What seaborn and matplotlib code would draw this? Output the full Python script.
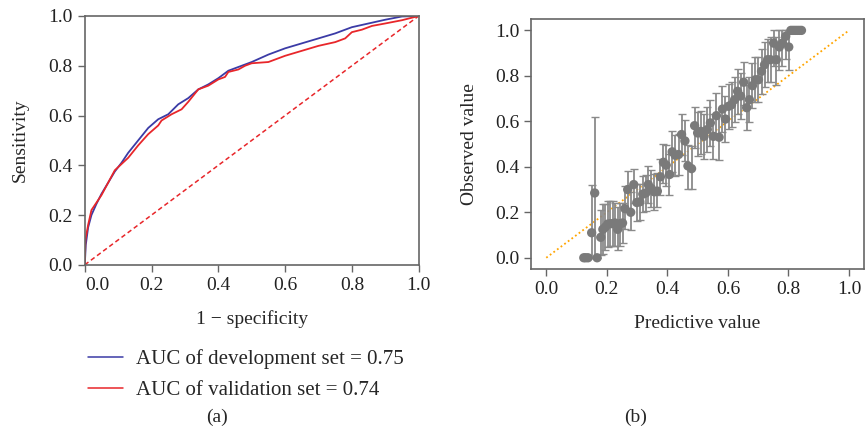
import matplotlib
matplotlib.use("Agg")
import matplotlib.pyplot as plt
import numpy as np
import pandas as pd
import seaborn as sns

# ROC curves
dev_fpr = [0, 0.003, 0.01, 0.02, 0.035, 0.05, 0.07, 0.09, 0.11, 0.13, 0.16, 0.19, 0.22, 0.25,
           0.28, 0.31, 0.34, 0.37, 0.4, 0.43, 0.46, 0.5, 0.55, 0.6, 0.65, 0.7, 0.75, 0.8,
           0.85, 0.9, 0.95, 1.0]
dev_tpr = [0, 0.08, 0.15, 0.2, 0.245, 0.285, 0.33, 0.375, 0.41, 0.45, 0.5, 0.55, 0.585, 0.605,
           0.645, 0.67, 0.705, 0.725, 0.75, 0.78, 0.795, 0.815, 0.845, 0.87, 0.89, 0.91, 0.93, 0.955,
           0.97, 0.985, 0.998, 1.0]
val_fpr = [0, 0.002, 0.01, 0.02, 0.035, 0.05, 0.07, 0.09, 0.11, 0.13, 0.16, 0.19, 0.22, 0.23,
           0.26, 0.29, 0.31, 0.34, 0.37, 0.4, 0.42, 0.43, 0.46, 0.48, 0.5, 0.55, 0.6, 0.65,
           0.7, 0.75, 0.78, 0.8, 0.83, 0.86, 0.9, 0.95, 1.0]
val_tpr = [0, 0.1, 0.16, 0.22, 0.25, 0.28, 0.33, 0.38, 0.405, 0.43, 0.48, 0.525, 0.56, 0.58,
           0.605, 0.625, 0.655, 0.705, 0.72, 0.745, 0.755, 0.775, 0.785, 0.8, 0.81, 0.815, 0.84, 0.86,
           0.88, 0.895, 0.91, 0.935, 0.945, 0.96, 0.97, 0.983, 1.0]
legend_labels = ["AUC of development set = 0.75", "AUC of validation set = 0.74"]

# calibration bins
pred = [0.124, 0.13, 0.138, 0.15, 0.16, 0.168, 0.18, 0.187, 0.195, 0.203, 0.212, 0.22, 0.227,
        0.236, 0.244, 0.252, 0.26, 0.269, 0.279, 0.289, 0.299, 0.309, 0.319, 0.329, 0.337,
        0.347, 0.357, 0.367, 0.377, 0.387, 0.396, 0.407, 0.416, 0.426, 0.437, 0.447, 0.458,
        0.468, 0.48, 0.49, 0.5, 0.511, 0.521, 0.532, 0.542, 0.552, 0.562, 0.571, 0.582, 0.592,
        0.602, 0.612, 0.622, 0.632, 0.642, 0.652, 0.662, 0.671, 0.681, 0.691, 0.701, 0.711,
        0.721, 0.731, 0.741, 0.751, 0.76, 0.77, 0.78, 0.791, 0.801, 0.808, 0.815, 0.822,
        0.829, 0.836, 0.843]
obs = [0, 0, 0, 0.11, 0.285, 0, 0.09, 0.125, 0.135, 0.148, 0.15, 0.15, 0.153,
       0.125, 0.15, 0.153, 0.216, 0.30, 0.20, 0.322, 0.243, 0.246, 0.28, 0.285, 0.322,
       0.305, 0.29, 0.293, 0.356, 0.42, 0.407, 0.366, 0.466, 0.451, 0.454, 0.542, 0.514,
       0.404, 0.392, 0.581, 0.549, 0.556, 0.534, 0.564, 0.593, 0.534, 0.625, 0.53, 0.654, 0.61,
       0.666, 0.673, 0.695, 0.732, 0.711, 0.772, 0.66, 0.695, 0.757, 0.783, 0.783, 0.82,
       0.849, 0.871, 0.871, 0.944, 0.871, 0.927, 0.944, 0.974, 0.927, 1.0, 1.0, 1.0,
       1.0, 1.0, 1.0]
err_lo = [0, 0, 0, 0.11, 0.285, 0, 0.08, 0.11, 0.1, 0.1, 0.1, 0.1, 0.1,
          0.09, 0.1, 0.09, 0.09, 0.09, 0.08, 0.08, 0.08, 0.08, 0.08, 0.08, 0.08,
          0.08, 0.08, 0.07, 0.08, 0.09, 0.09, 0.09, 0.09, 0.09, 0.09, 0.09, 0.09,
          0.1, 0.09, 0.1, 0.1, 0.1, 0.1, 0.1, 0.1, 0.1, 0.1, 0.1, 0.1, 0.1,
          0.1, 0.1, 0.1, 0.1, 0.1, 0.1, 0.1, 0.1, 0.1, 0.1, 0.1, 0.1,
          0.1, 0.1, 0.1, 0.1, 0.11, 0.1, 0.1, 0.1, 0.1, 0, 0, 0,
          0, 0, 0]
err_hi = [0, 0, 0, 0.21, 0.335, 0, 0.12, 0.11, 0.1, 0.1, 0.1, 0.1, 0.09,
          0.1, 0.09, 0.09, 0.1, 0.08, 0.09, 0.07, 0.08, 0.08, 0.08, 0.08, 0.08,
          0.08, 0.08, 0.08, 0.08, 0.08, 0.09, 0.09, 0.09, 0.09, 0.09, 0.09, 0.09,
          0.09, 0.1, 0.08, 0.09, 0.09, 0.1, 0.1, 0.1, 0.1, 0.1, 0.1, 0.1, 0.1,
          0.1, 0.1, 0.1, 0.1, 0.1, 0.09, 0.1, 0.1, 0.1, 0.1, 0.1, 0.1,
          0.1, 0.09, 0.1, 0.056, 0.1, 0.073, 0.056, 0.026, 0.073, 0, 0, 0,
          0, 0, 0]

sns.set_style("ticks")
plt.rcParams['font.family'] = ['Liberation Serif', 'DejaVu Serif']
plt.rcParams['font.size'] = 14

fig = plt.figure(figsize=(8.65, 4.32), dpi=100)
ax1 = fig.add_axes([0.098, 0.387, 0.386, 0.576])
ax2 = fig.add_axes([0.614, 0.377, 0.385, 0.579])

# (a) ROC
roc = pd.concat([
    pd.DataFrame({"fpr": dev_fpr, "tpr": dev_tpr, "set": legend_labels[0]}),
    pd.DataFrame({"fpr": val_fpr, "tpr": val_tpr, "set": legend_labels[1]}),
])
sns.lineplot(data=roc, x="fpr", y="tpr", hue="set", palette=["#3b3ba6", "#e8262a"],
             sort=False, estimator=None, lw=1.3, ax=ax1, legend=False)
ax1.plot([0, 1], [0, 1], ls=(0, (3, 2)), color="#e8262a", lw=1.1)
ax1.set_xlim(0, 1)
ax1.set_ylim(0, 1)
ax1.set_xticks(np.arange(0, 1.01, 0.2))
ax1.set_yticks(np.arange(0, 1.01, 0.2))
ax1.set_xticklabels([f"{t:.1f}" for t in np.arange(0, 1.01, 0.2)])
ax1.set_yticklabels([f"{t:.1f}" for t in np.arange(0, 1.01, 0.2)])
ax1.get_xticklabels()[0].set_ha("left")
ax1.set_xlabel("1 \u2212 specificity", labelpad=12)
ax1.set_ylabel("Sensitivity", labelpad=14.5)

handles = [plt.Line2D([], [], color="#3b3ba6", lw=1.1),
           plt.Line2D([], [], color="#e8262a", lw=1.1)]
fig.legend(handles, legend_labels, loc="upper left", bbox_to_anchor=(0.08, 0.235),
           frameon=False, handlelength=1.7, handletextpad=0.6, labelspacing=0.55,
           fontsize=15)

# (b) calibration
ax2.plot([0, 1], [0, 1], ls=(0, (1, 1.5)), color="#ffa500", lw=1.3)
yerr = np.vstack([err_lo, err_hi])
ax2.errorbar(pred, obs, yerr=yerr, fmt="none", ecolor="#8a8a8a", elinewidth=1.3,
             capsize=3, capthick=1.0)
sns.scatterplot(x=pred, y=obs, color="#7a7a7a", s=45, edgecolor="none", ax=ax2, zorder=3)
ax2.set_xlim(-0.05, 1.05)
ax2.set_ylim(-0.05, 1.05)
ax2.set_xticks(np.arange(0, 1.01, 0.2))
ax2.set_yticks(np.arange(0, 1.01, 0.2))
ax2.set_xticklabels([f"{t:.1f}" for t in np.arange(0, 1.01, 0.2)])
ax2.set_yticklabels([f"{t:.1f}" for t in np.arange(0, 1.01, 0.2)])
ax2.set_xlabel("Predictive value", labelpad=12)
ax2.set_ylabel("Observed value", labelpad=12.5)

for ax in (ax1, ax2):
    for s in ax.spines.values():
        s.set_color("#666666")
        s.set_linewidth(1.2)
    ax.tick_params(colors="#222222", length=5, width=1.0, labelsize=14)
    ax.tick_params(axis="both", color="#666666")

fig.text(0.251, 0.035, "(a)", ha="center", va="center", fontsize=14)
fig.text(0.735, 0.035, "(b)", ha="center", va="center", fontsize=14)

fig.savefig("out.png", dpi=100)
